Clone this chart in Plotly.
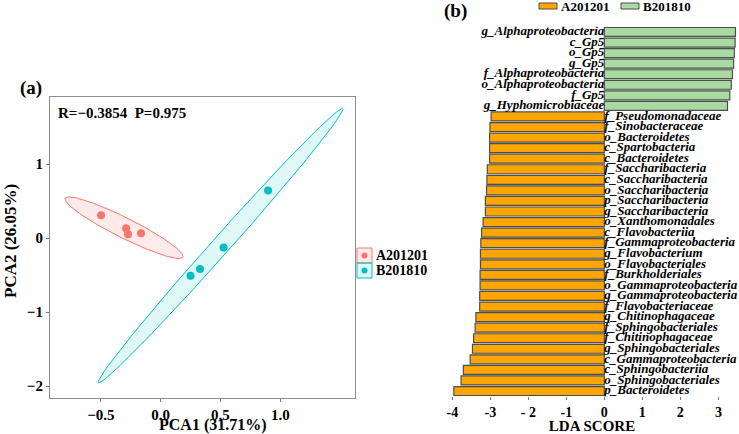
import numpy as np
import plotly.graph_objects as go

# ---------------- data ----------------
GROUPS = ["A201201", "B201810"]
PCA_COLORS = ["#F8766D", "#00BFC4"]
PCA_FILLS = ["rgba(248,118,109,0.15)", "rgba(0,191,196,0.12)"]

PCA1_A = [-0.498, -0.289, -0.273, -0.164]
PCA2_A = [0.310, 0.135, 0.054, 0.067]
PCA1_B = [0.250, 0.329, 0.526, 0.898]
PCA2_B = [-0.508, -0.417, -0.126, 0.646]

PCA_XTICKS = [-0.5, 0.0, 0.5, 1.0]
PCA_XTICKTEXT = ["\u22120.5", "0.0", "0.5", "1.0"]
PCA_YTICKS = [-2, -1, 0, 1]
PCA_YTICKTEXT = ["\u22122", "\u22121", "0", "1"]
STAT_TEXT = "R=\u22120.3854  P=0.975"
ELLIPSE_LEVEL = 0.915

TAXA_B = ["g_Alphaproteobacteria", "c_Gp5", "o_Gp5", "g_Gp5",
          "f_Alphaproteobacteria", "o_Alphaproteobacteria", "f_Gp5",
          "g_Hyphomicrobiaceae"]
LDA_B = [3.45, 3.44, 3.42, 3.40, 3.37, 3.34, 3.30, 3.24]

TAXA_A = ["f_Pseudomonadaceae", "f_Sinobacteraceae", "o_Bacteroidetes",
          "c_Spartobacteria", "c_Bacteroidetes", "f_Saccharibacteria",
          "c_Saccharibacteria", "o_Saccharibacteria", "p_Saccharibacteria",
          "g_Saccharibacteria", "o_Xanthomonadales", "c_Flavobacteriia",
          "f_Gammaproteobacteria", "g_Flavobacterium", "o_Flavobacteriales",
          "f_Burkholderiales", "o_Gammaproteobacteria", "g_Gammaproteobacteria",
          "f_Flavobacteriaceae", "g_Chitinophagaceae", "f_Sphingobacteriales",
          "f_Chitinophagaceae", "g_Sphingobacteriales", "c_Gammaproteobacteria",
          "c_Sphingobacteriia", "o_Sphingobacteriales", "p_Bacteroidetes"]
LDA_A = [-2.98, -3.01, -3.02, -3.02, -3.02, -3.08, -3.09, -3.10, -3.13,
         -3.13, -3.19, -3.23, -3.25, -3.26, -3.26, -3.27, -3.27, -3.28,
         -3.28, -3.38, -3.40, -3.44, -3.47, -3.53, -3.71, -3.77, -3.96]
LDA_COLORS = ["#FFA500", "#A7DBA0"]
LDA_TICKS = [-4, -3, -2, -1, 0, 1, 2, 3]
LDA_TICKTEXT = ["-4", "-3", "- 2", "-1", "0", "1", "2", "3"]

W, H = 739, 434
SERIF = "Liberation Serif"


def px(x):
    return x / W


def py(y):
    return 1 - y / H


def ellipse(x, y, level, n=120):
    pts = np.column_stack([x, y])
    mu = pts.mean(axis=0)
    cov = np.cov(pts.T)
    d = len(x) - 1
    q = d / 2 * ((1 - level) ** (-2 / d) - 1)  # F quantile, dfn = 2
    r = np.sqrt(2 * q)
    L = np.linalg.cholesky(cov)
    t = np.linspace(0, 2 * np.pi, n)
    unit = np.column_stack([np.cos(t), np.sin(t)])
    e = mu + r * unit @ L.T
    return e[:, 0], e[:, 1]


fig = go.Figure()

# ---------------- panel (a) ----------------
for i, (gx, gy) in enumerate([(PCA1_A, PCA2_A), (PCA1_B, PCA2_B)]):
    ex, ey = ellipse(gx, gy, ELLIPSE_LEVEL)
    fig.add_trace(go.Scatter(x=ex, y=ey, mode="lines", fill="toself",
                             fillcolor=PCA_FILLS[i],
                             line=dict(color=PCA_COLORS[i], width=1),
                             showlegend=False, hoverinfo="skip",
                             xaxis="x", yaxis="y"))
for i, (gx, gy) in enumerate([(PCA1_A, PCA2_A), (PCA1_B, PCA2_B)]):
    fig.add_trace(go.Scatter(x=gx, y=gy, mode="markers", name=GROUPS[i],
                             marker=dict(color=PCA_COLORS[i], size=8),
                             showlegend=False, xaxis="x", yaxis="y"))

# ---------------- panel (b) ----------------
ALL_TAXA = TAXA_B + TAXA_A
fig.add_trace(go.Bar(y=TAXA_A, x=LDA_A, orientation="h", name=GROUPS[0],
                     marker=dict(color=LDA_COLORS[0],
                                 line=dict(color="#4d4d4d", width=1.2)),
                     showlegend=False, xaxis="x2", yaxis="y2"))
fig.add_trace(go.Bar(y=TAXA_B, x=LDA_B, orientation="h", name=GROUPS[1],
                     marker=dict(color=LDA_COLORS[1],
                                 line=dict(color="#4d4d4d", width=1.2)),
                     showlegend=False, xaxis="x2", yaxis="y2"))
label_font = dict(family=SERIF, size=13, color="black",
                  weight="bold", style="italic")
fig.add_trace(go.Scatter(x=[0] * len(TAXA_B), y=TAXA_B, mode="text",
                         text=TAXA_B, textposition="middle left",
                         textfont=label_font, showlegend=False,
                         hoverinfo="skip", xaxis="x2", yaxis="y2"))
fig.add_trace(go.Scatter(x=[0] * len(TAXA_A), y=TAXA_A, mode="text",
                         text=TAXA_A, textposition="middle right",
                         textfont=label_font, showlegend=False,
                         hoverinfo="skip", xaxis="x2", yaxis="y2"))

tick_font = dict(family=SERIF, size=15, color="black", weight="bold")

fig.update_layout(
    width=W, height=H, margin=dict(l=0, r=0, t=0, b=0),
    paper_bgcolor="white", plot_bgcolor="white",
    barmode="relative", bargap=0.15, showlegend=False,
    xaxis=dict(domain=[px(50), px(355)], range=[-0.925, 1.625],
               tickvals=PCA_XTICKS, ticktext=PCA_XTICKTEXT,
               ticks="outside", ticklen=3, tickcolor="#777",
               showline=True, mirror=True, linecolor="#8c8c8c", linewidth=1.2,
               showgrid=False, zeroline=False, tickfont=tick_font,
               anchor="y"),
    yaxis=dict(domain=[py(398), py(97)], range=[-2.161, 1.909],
               tickvals=PCA_YTICKS, ticktext=PCA_YTICKTEXT,
               ticks="outside", ticklen=3, tickcolor="#777",
               showline=True, mirror=True, linecolor="#8c8c8c", linewidth=1.2,
               showgrid=False, zeroline=False, tickfont=tick_font,
               anchor="x"),
    xaxis2=dict(domain=[px(447), px(737)], range=[-4.14, 3.49],
                tickvals=LDA_TICKS, ticktext=LDA_TICKTEXT,
                ticks="outside", ticklen=3, tickcolor="#777",
                showline=False, showgrid=False, zeroline=False,
                tickfont=dict(family=SERIF, size=14, color="black", weight="bold"),
                title=dict(text="LDA SCORE", standoff=2,
                           font=dict(family=SERIF, size=15, color="black",
                                     weight="bold")),
                anchor="y2"),
    yaxis2=dict(domain=[py(396.3), py(26.7)],
                type="category", categoryarray=ALL_TAXA,
                range=[len(ALL_TAXA) - 0.5, -0.5],
                showticklabels=False, ticks="", showline=False,
                showgrid=False, zeroline=False, anchor="x2"),
)


def note(text, x, y, size, xanchor="center", angle=0):
    return dict(text=text, x=px(x), y=py(y), xref="paper", yref="paper",
                xanchor=xanchor, yanchor="middle", showarrow=False,
                textangle=angle,
                font=dict(family=SERIF, size=size, color="black", weight="bold"))


ann = [
    note("(a)", 31, 88, 19),
    note("(b)", 455, 11, 19),
    note(STAT_TEXT, 56, 113, 15, xanchor="left"),
    note("PCA1 (31.71%)", 213, 424.5, 16),
    note("PCA2 (26.05%)", 10, 241, 17, angle=-90),
]

shapes = []
# legend of panel (a)
for i, g in enumerate(GROUPS):
    y0 = 248 + 15 * i
    shapes.append(dict(type="rect", xref="paper", yref="paper",
                       x0=px(357), x1=px(372), y0=py(y0), y1=py(y0 + 15),
                       line=dict(color=PCA_COLORS[i], width=1),
                       fillcolor=PCA_FILLS[i]))
    shapes.append(dict(type="circle", xref="paper", yref="paper",
                       x0=px(361.5), x1=px(367.5), y0=py(y0 + 4.5), y1=py(y0 + 10.5),
                       line=dict(color=PCA_COLORS[i], width=0),
                       fillcolor=PCA_COLORS[i]))
    ann.append(note(g, 374, y0 + 7.5, 14, xanchor="left"))
# legend of panel (b)
for i, g in enumerate(GROUPS):
    x0 = 539 + 82 * i
    shapes.append(dict(type="rect", xref="paper", yref="paper",
                       x0=px(x0), x1=px(x0 + 18), y0=py(3), y1=py(9),
                       line=dict(color="#4d4d4d", width=1),
                       fillcolor=LDA_COLORS[i]))
    ann.append(note(g, x0 + 20, 6, 13, xanchor="left"))

fig.update_layout(annotations=ann, shapes=shapes)
fig.write_html("out.html", config={"displayModeBar": False},
               post_script="document.body.style.margin='0';"
                           "document.body.style.padding='0';"
                           "document.body.style.overflow='hidden';")
